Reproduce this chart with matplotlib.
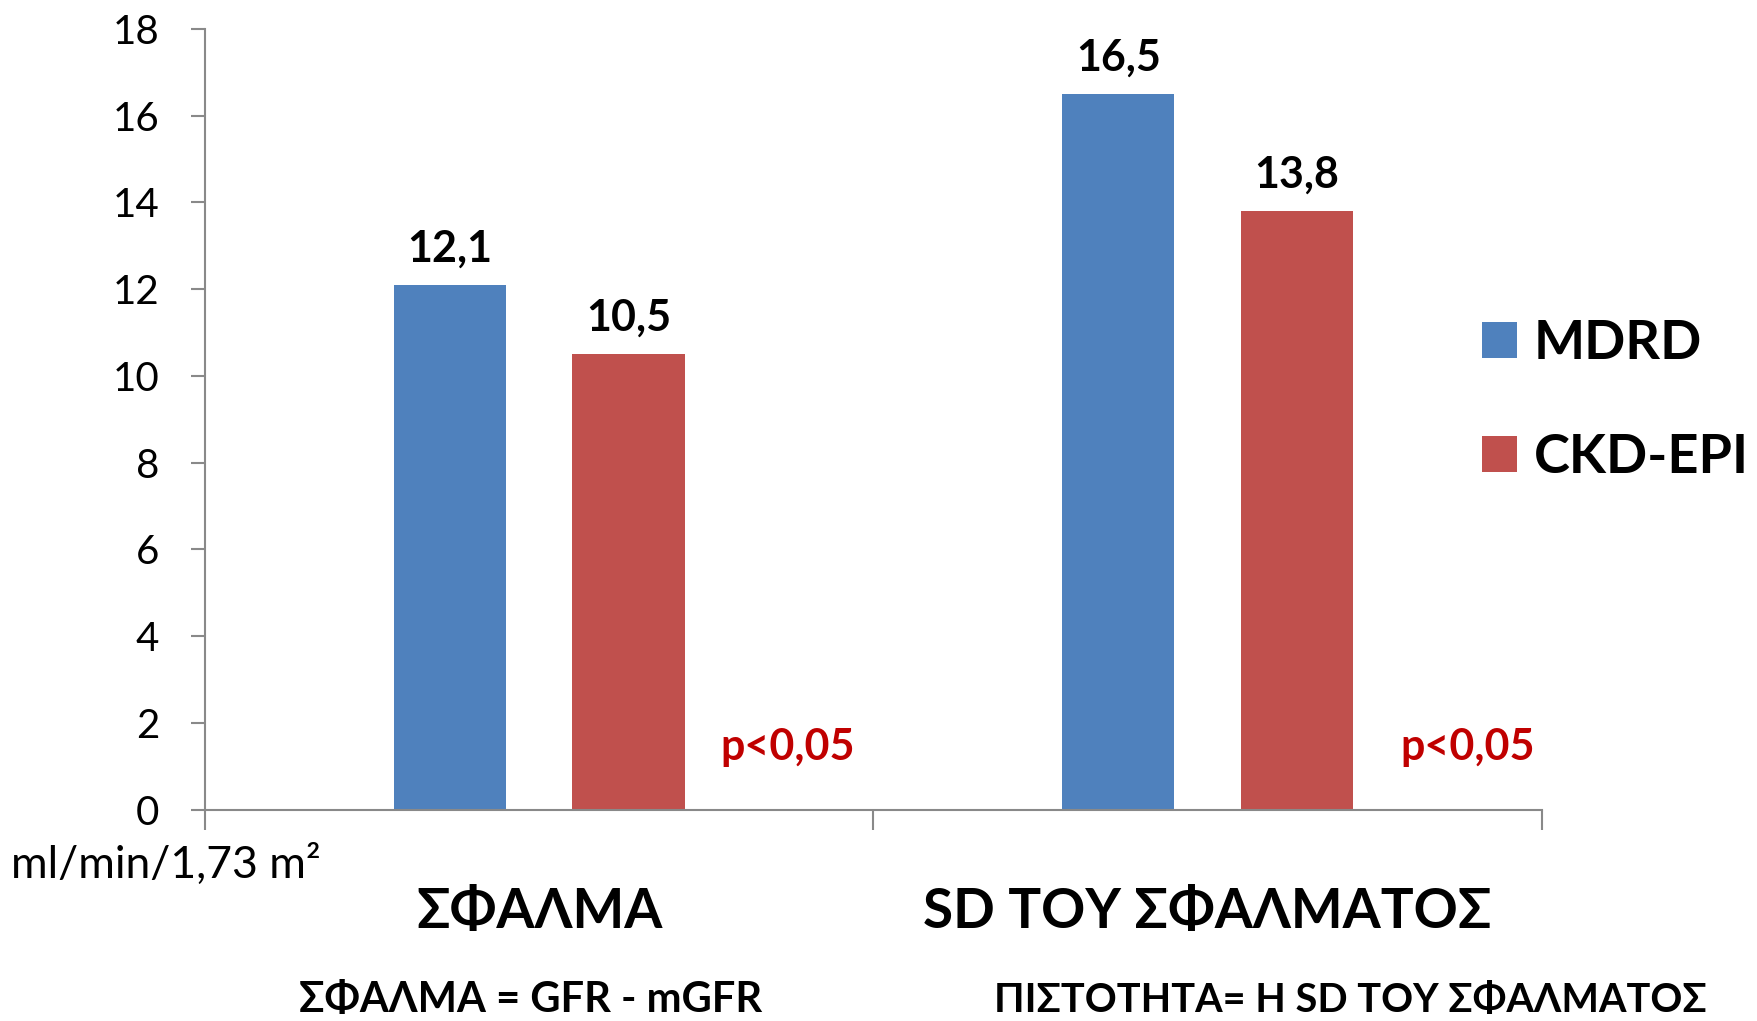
import matplotlib
matplotlib.use("Agg")
import matplotlib.pyplot as plt
import numpy as np

# Data
categories = ["ΣΦΑΛΜΑ", "SD ΤΟΥ ΣΦΑΛΜΑΤΟΣ"]
series_names = ["MDRD", "CKD-EPI"]
mdrd_values = [12.1, 16.5]
ckdepi_values = [10.5, 13.8]
p_labels = ["p<0,05", "p<0,05"]
y_ticks = [0, 2, 4, 6, 8, 10, 12, 14, 16, 18]
unit_label = "ml/min/1,73 m²"
footnotes = ["ΣΦΑΛΜΑ = GFR - mGFR", "ΠΙΣΤΟΤΗΤΑ= Η SD ΤΟΥ ΣΦΑΛΜΑΤΟΣ"]

BLUE = "#4F81BD"
RED = "#C0504D"
PRED = "#C00000"
GREY = "#898989"

plt.rcParams["font.family"] = ["Lato", "DejaVu Sans"]

fig = plt.figure(figsize=(17.58, 10.21), dpi=100)
ax = fig.add_axes([0.1166, 0.207, 0.877 - 0.1166, 0.9716 - 0.207])

x = np.arange(len(categories))
width = 0.168
offset = 0.1335
bars_m = ax.bar(x - offset, mdrd_values, width, color=BLUE, label=series_names[0])
bars_c = ax.bar(x + offset, ckdepi_values, width, color=RED, label=series_names[1])

for bars, vals in ((bars_m, mdrd_values), (bars_c, ckdepi_values)):
    ax.bar_label(bars, labels=[f"{v:.1f}".replace(".", ",") for v in vals],
                 padding=12, fontsize=31, fontweight="bold", color="black")

# significance notes beside each group
p_dx = [0.371, 0.389]
for xi, dx, txt in zip(x, p_dx, p_labels):
    ax.text(xi + dx, 1.45, txt, ha="center", va="center", fontsize=31,
            fontweight="bold", color=PRED)

ax.set_xlim(-0.5, len(categories) - 0.5)
ax.set_ylim(0, 18)
ax.set_yticks(y_ticks)
ax.set_yticklabels([str(t) for t in y_ticks])
ax.tick_params(axis="y", length=10, width=1.5, color=GREY, pad=23, labelsize=29)
ax.set_xticks(np.arange(-0.5, len(categories), 1.0))
ax.set_xticklabels([])
ax.tick_params(axis="x", length=14.5, width=1.5, color=GREY)

for side in ("top", "right"):
    ax.spines[side].set_visible(False)
for side in ("left", "bottom"):
    ax.spines[side].set_color(GREY)
    ax.spines[side].set_linewidth(1.5)

# category names under each group
trans = ax.get_xaxis_transform()
for xi, name in zip(x, categories):
    ax.text(xi, -0.1307, name, transform=trans, ha="center", va="center",
            fontsize=39.5, fontweight="bold")

fig.text(0.0063, 0.153, unit_label, ha="left", va="center", fontsize=32)
fig.text(0.302, 0.0205, footnotes[0], ha="center", va="center", fontsize=30,
         fontweight="bold")
fig.text(0.768, 0.0205, footnotes[1], ha="center", va="center", fontsize=28.5,
         fontweight="bold")

fig.legend(handles=[bars_m, bars_c], labels=series_names, loc="center left",
           bbox_to_anchor=(0.815, 0.608), frameon=False,
           prop={"size": 39, "weight": "bold"}, handlelength=0.65,
           handleheight=0.65, handletextpad=0.32, labelspacing=1.2)

fig.savefig("out.png", dpi=100)
